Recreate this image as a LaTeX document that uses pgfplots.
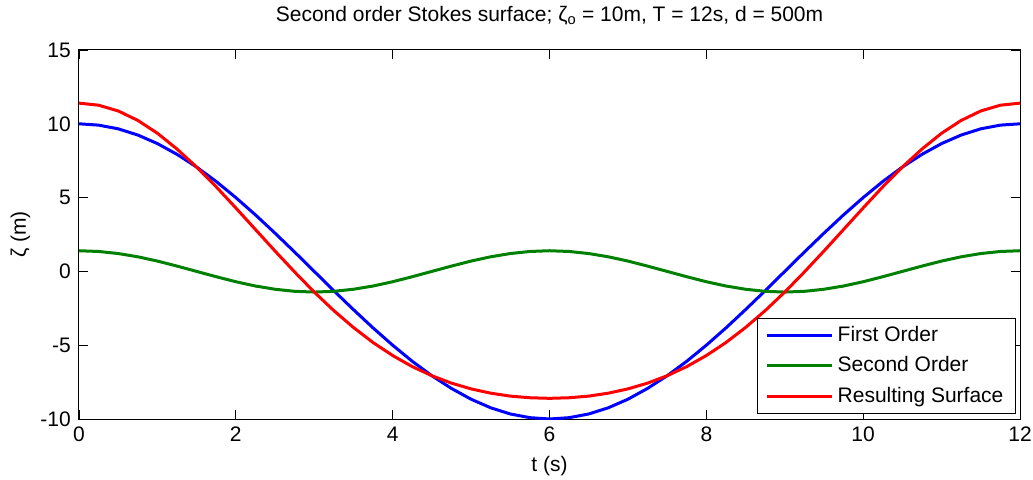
\documentclass[border=0pt]{standalone}
\usepackage{fontspec}
\setmainfont{Liberation Sans}
\usepackage{pgfplots}
\pgfplotsset{compat=1.18}
\usepackage{pgfplotstable}

% t, first order, second order, resulting surface (zeta_o = 10 m, T = 12 s)
\pgfplotstableread{
t     a      b      c
0.00  10.00  1.40  11.40
0.25   9.91  1.35  11.26
0.50   9.66  1.21  10.87
0.75   9.24  0.99  10.23
1.00   8.66  0.70   9.36
1.25   7.93  0.36   8.29
1.50   7.07  0.00   7.07
1.75   6.09 -0.36   5.73
2.00   5.00 -0.70   4.30
2.25   3.83 -0.99   2.84
2.50   2.59 -1.21   1.38
2.75   1.31 -1.35  -0.04
3.00   0.00 -1.40  -1.40
3.25  -1.31 -1.35  -2.66
3.50  -2.59 -1.21  -3.80
3.75  -3.83 -0.99  -4.82
4.00  -5.00 -0.70  -5.70
4.25  -6.09 -0.36  -6.45
4.50  -7.07  0.00  -7.07
4.75  -7.93  0.36  -7.57
5.00  -8.66  0.70  -7.96
5.25  -9.24  0.99  -8.25
5.50  -9.66  1.21  -8.45
5.75  -9.91  1.35  -8.56
6.00 -10.00  1.40  -8.60
6.25  -9.91  1.35  -8.56
6.50  -9.66  1.21  -8.45
6.75  -9.24  0.99  -8.25
7.00  -8.66  0.70  -7.96
7.25  -7.93  0.36  -7.57
7.50  -7.07  0.00  -7.07
7.75  -6.09 -0.36  -6.45
8.00  -5.00 -0.70  -5.70
8.25  -3.83 -0.99  -4.82
8.50  -2.59 -1.21  -3.80
8.75  -1.31 -1.35  -2.66
9.00   0.00 -1.40  -1.40
9.25   1.31 -1.35  -0.04
9.50   2.59 -1.21   1.38
9.75   3.83 -0.99   2.84
10.00  5.00 -0.70   4.30
10.25  6.09 -0.36   5.73
10.50  7.07  0.00   7.07
10.75  7.93  0.36   8.29
11.00  8.66  0.70   9.36
11.25  9.24  0.99  10.23
11.50  9.66  1.21  10.87
11.75  9.91  1.35  11.26
12.00 10.00  1.40  11.40
}\stokes

\definecolor{mblue}{RGB}{0,0,255}
\definecolor{mgreen}{RGB}{0,128,0}
\definecolor{mred}{RGB}{255,0,0}

\newcommand\chartfont{\fontsize{21bp}{25bp}\selectfont}

\begin{document}
\chartfont
\begin{tikzpicture}
\useasboundingbox (-79bp,-61bp) rectangle (954bp,419bp);
\begin{axis}[
  scale only axis,
  width=941bp, height=369bp,
  xmin=0, xmax=12, ymin=-10, ymax=15,
  xtick={0,2,...,12},
  ytick={-10,-5,...,15},
  tick align=inside,
  major tick length=9bp,
  tick style={black, line width=0.8bp},
  axis line style={black, line width=1bp},
  tick label style={font=\chartfont},
  /pgf/number format/assume math mode=true,
  xticklabel style={yshift=-1bp},
  yticklabel style={xshift=-1bp},
  label style={font=\chartfont},
  xlabel={t (s)},
  ylabel={ζ (m)},
  xlabel style={at={(0.5,0)}, anchor=north, yshift=-30bp},
  ylabel style={yshift=-4bp},
  title={Second order Stokes surface; ζ\textsubscript{o} = 10m, T = 12s, d = 500m},
  title style={font=\chartfont, at={(0.5,1)}, anchor=south, yshift=12bp},
  legend cell align=left,
  legend style={
    at={(rel axis cs:0.9957,0.0136)}, anchor=south east,
    draw=black, line width=1bp,
    font=\chartfont,
    inner xsep=8bp, inner ysep=6bp,
    row sep=8bp,
    nodes={inner xsep=4bp, inner ysep=2bp},
  },
  legend image code/.code={
    \draw[#1, line width=3bp] (0bp,0bp) -- (65bp,0bp);
  },
]
\addplot[mblue, line width=3bp] table[x=t, y=a] {\stokes};
\addlegendentry{First Order}
\addplot[mgreen, line width=3bp] table[x=t, y=b] {\stokes};
\addlegendentry{Second Order}
\addplot[mred, line width=3bp] table[x=t, y=c] {\stokes};
\addlegendentry{Resulting Surface}
\end{axis}
\end{tikzpicture}
\end{document}
